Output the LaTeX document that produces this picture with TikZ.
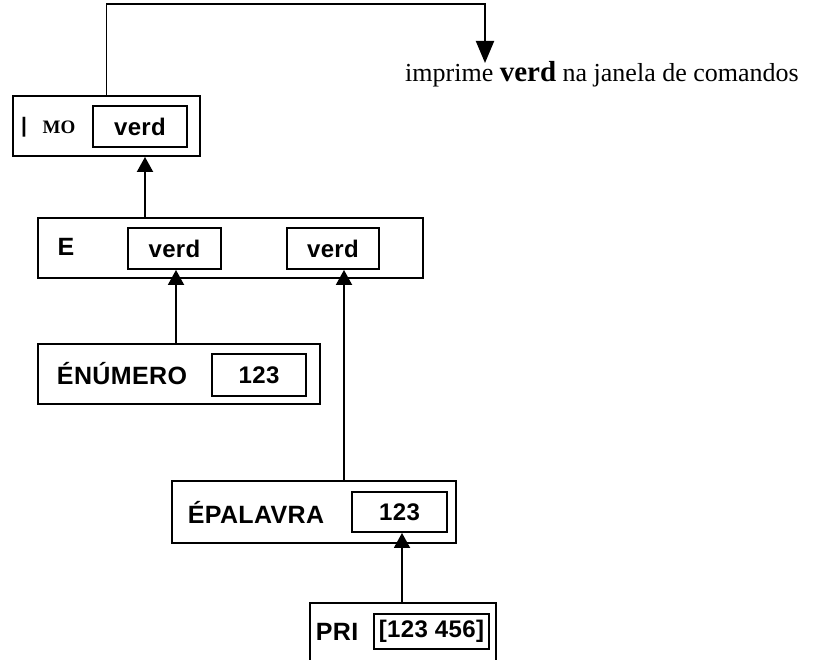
\documentclass[tikz,border=0pt]{standalone}
\usepackage{fontspec}
\setmainfont{Liberation Serif}
\setsansfont{Liberation Sans}
\newfontfamily\caixafont[LetterSpace=1.5]{Liberation Sans Bold}
\usetikzlibrary{arrows.meta}

\begin{document}
\begin{tikzpicture}[x=1pt,y=-1pt,
	caixa/.style={draw,line width=1.9pt,inner sep=0pt,minimum height=60pt},
	valor/.style={draw,line width=1.9pt,inner sep=0pt,minimum width=94pt,minimum height=41pt,font=\caixafont\fontsize{24}{24}\selectfont},
	rotulo/.style={inner sep=0pt,font=\caixafont\fontsize{25}{25}\selectfont},
	seta/.style={line width=1.9pt,-{Triangle[width=16pt,length=15pt]}}]
					\useasboundingbox (0,0) rectangle (814,660);
					\clip (0,0) rectangle (814,660);
					% caixa MO
					\node[caixa,minimum width=187pt] (mo) at (106.5,126) {};
					\node[valor] (moval) at (140,126.5) {verd};
					\node[inner sep=0pt,font=\sffamily\bfseries\fontsize{21}{21}\selectfont] (barra) at (24,127) {|};
					\node[inner sep=0pt,font=\bfseries\fontsize{19}{19}\selectfont] (molbl) at (59,127) {MO};
					% caixa E
					\node[caixa,minimum width=385pt] (e) at (230.5,248) {};
					\node[rotulo] (elbl) at (66,247) {E};
					\node[valor,minimum width=93pt] (verd1) at (174.5,248.5) {verd};
					\node[valor,minimum width=92pt] (verd2) at (333,248.5) {verd};
					% caixa ENUMERO
					\node[caixa,minimum width=282pt] (num) at (179,374) {};
					\node[rotulo] (numlbl) at (122,374) {ÉNÚMERO};
					\node[valor,minimum height=42pt] (numval) at (259,375) {123};
					% caixa EPALAVRA
					\node[caixa,minimum width=284pt,minimum height=62pt] (pal) at (314,512) {};
					\node[rotulo] (pallbl) at (256,512) {ÉPALAVRA};
					\node[valor,minimum width=95pt,minimum height=40pt] (palval) at (399.5,512) {123};
					% caixa PRI (cortada em baixo)
					\node[caixa,minimum width=186pt,minimum height=90pt] (pri) at (403,648) {};
					\node[rotulo] (prilbl) at (337,632) {PRI};
					\node[valor,minimum width=115pt,minimum height=35pt] (prival) at (431.5,631.5) {[123 456]};
					% setas
					\draw[seta] ([xshift=5pt]moval.south |- e.north) -- ([xshift=5pt]moval.south |- mo.south);
					\draw[seta] ([xshift=1.5pt]verd1.south |- num.north) -- ([xshift=1.5pt]verd1.south);
					\draw[seta] ([xshift=11pt]verd2.south |- pal.north) -- ([xshift=11pt]verd2.south);
					\draw[seta] ([xshift=2.5pt]palval.south |- pri.north) -- ([xshift=2.5pt]palval.south);
					% saida
					\coordinate (saida) at (485,63);
					\draw[line width=1.9pt,-{Triangle[width=18pt,length=22pt]}] (mo.north) -- ++(0,-91) -| (saida);
					\node[anchor=base west,inner sep=0pt,font=\fontsize{26}{26}\selectfont] (msg) at (405,82)
						{imprime {\bfseries\fontsize{29}{29}\selectfont verd} na janela de comandos};
				\end{tikzpicture}
\end{document}
